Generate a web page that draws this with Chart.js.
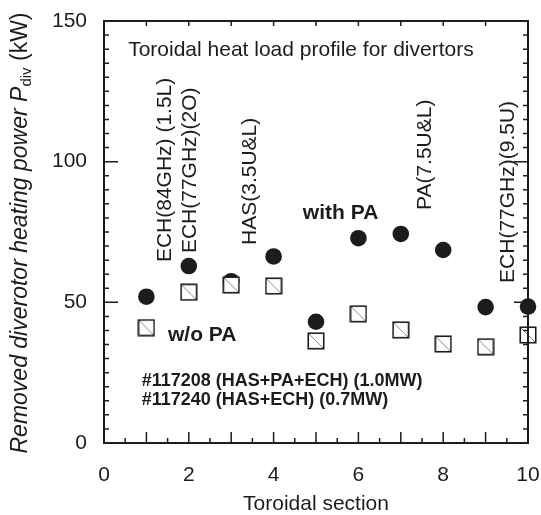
<!DOCTYPE html>
<html>
<head>
<meta charset="utf-8">
<script src="https://cdn.jsdelivr.net/npm/chart.js@4"></script>
<style>
  html, body { margin: 0; padding: 0; background: #fff; }
  #wrap { width: 541px; height: 515px; }
</style>
</head>
<body>
<div id="wrap"><canvas id="chart-divertor"></canvas></div>
<script>
// toroidal section numbers
const sections = [1, 2, 3, 4, 5, 6, 7, 8, 9, 10];
// removed divertor heating power (kW)
const withPA = [52.0, 62.9, 57.5, 66.3, 43.1, 72.8, 74.3, 68.6, 48.3, 48.5];
const withoutPA = [41.0, 53.6, 56.2, 55.8, 36.3, 45.9, 40.2, 35.2, 34.2, 38.4];

const xTicks = [0, 2, 4, 6, 8, 10];
const yTicks = [0, 50, 100, 150];

// text labels in data coordinates
const heatingLabels = [
    { text: 'ECH(84GHz) (1.5L)', x: 1.44, y: 64.3 },
    { text: 'ECH(77GHz)(2O)', x: 2.03, y: 67.5 },
    { text: 'HAS(3.5U&L)', x: 3.44, y: 70.4 },
    { text: 'PA(7.5U&L)', x: 7.57, y: 82.8 },
    { text: 'ECH(77GHz)(9.5U)', x: 9.53, y: 56.9 }
];
const notes = [
    { text: 'Toroidal heat load profile for divertors', x: 0.57, y: 139.7, font: '21px "Liberation Sans", Arial, sans-serif' },
    { text: 'with PA', x: 4.69, y: 81.8, font: 'bold 21px "Liberation Sans", Arial, sans-serif' },
    { text: 'w/o PA', x: 1.51, y: 38.4, font: 'bold 21px "Liberation Sans", Arial, sans-serif' },
    { text: '#117208 (HAS+PA+ECH) (1.0MW)', x: 0.89, y: 22.0, font: 'bold 18px "Liberation Sans", Arial, sans-serif' },
    { text: '#117240 (HAS+ECH) (0.7MW)', x: 0.89, y: 15.3, font: 'bold 18px "Liberation Sans", Arial, sans-serif' }
];

const ink = '#1c1c1c';
const fontFamily = '"Liberation Sans", Arial, sans-serif';

// open square with a thin diagonal
function makeSquare() {
    var c = document.createElement('canvas');
    c.width = 18; c.height = 18;
    var g = c.getContext('2d');
    g.fillStyle = '#fff';
    g.fillRect(1, 1, 16, 16);
    g.strokeStyle = '#888';
    g.lineWidth = 1;
    g.beginPath();
    g.moveTo(2, 2); g.lineTo(16, 16);
    g.stroke();
    g.strokeStyle = ink;
    g.lineWidth = 1.6;
    g.strokeRect(1.25, 1.25, 15.5, 15.5);
    return c;
}

const framePlugin = {
    id: 'frame',
    afterDatasetsDraw(chart) {
        const ctx = chart.ctx;
        const a = chart.chartArea;
        const xs = chart.scales.x, ys = chart.scales.y;
        ctx.save();
        ctx.strokeStyle = ink;
        ctx.lineWidth = 2;
        ctx.strokeRect(a.left, a.top, a.right - a.left, a.bottom - a.top);
        ctx.lineWidth = 1.5;
        ctx.beginPath();
        // x ticks: bottom (integers long, halves short), top integers
        for (let v = 0.5; v < 10; v += 0.5) {
            const px = xs.getPixelForValue(v);
            const len = Number.isInteger(v) ? 11 : 5;
            ctx.moveTo(px, a.bottom); ctx.lineTo(px, a.bottom - len);
            if (Number.isInteger(v)) { ctx.moveTo(px, a.top); ctx.lineTo(px, a.top + 5); }
        }
        // y ticks on both sides
        for (let v = 5; v < 150; v += 5) {
            const py = ys.getPixelForValue(v);
            const len = v % 50 === 0 ? 14 : 5;
            ctx.moveTo(a.left, py); ctx.lineTo(a.left + len, py);
            ctx.moveTo(a.right, py); ctx.lineTo(a.right - len, py);
        }
        ctx.stroke();

        // annotations
        ctx.fillStyle = ink;
        ctx.textBaseline = 'middle';
        ctx.textAlign = 'left';
        notes.forEach(function (n) {
            ctx.font = n.font;
            ctx.fillText(n.text, xs.getPixelForValue(n.x), ys.getPixelForValue(n.y));
        });
        ctx.font = '21px ' + fontFamily;
        heatingLabels.forEach(function (n) {
            ctx.save();
            ctx.translate(xs.getPixelForValue(n.x), ys.getPixelForValue(n.y));
            ctx.rotate(-Math.PI / 2);
            ctx.fillText(n.text, 0, 0);
            ctx.restore();
        });

        // y axis title with subscript
        const parts = [
            { t: 'Removed diverotor heating power ', f: 'italic 23px ' + fontFamily, dy: 0 },
            { t: 'P', f: 'italic 23px ' + fontFamily, dy: 0 },
            { t: 'div', f: '15px ' + fontFamily, dy: 6 },
            { t: ' (kW)', f: '23px ' + fontFamily, dy: 0 }
        ];
        let total = 0;
        parts.forEach(function (p) { ctx.font = p.f; p.w = ctx.measureText(p.t).width; total += p.w; });
        ctx.save();
        ctx.translate(21, 233);
        ctx.rotate(-Math.PI / 2);
        let x0 = -total / 2;
        parts.forEach(function (p) {
            ctx.font = p.f;
            ctx.fillText(p.t, x0, p.dy);
            x0 += p.w;
        });
        ctx.restore();
        ctx.restore();
    }
};

var ctx = document.getElementById('chart-divertor');
var myChart = new Chart(ctx, {
    type: 'scatter',
    data: {
        datasets: [{
            label: 'w/o PA',
            data: sections.map((s, i) => ({ x: s, y: withoutPA[i] })),
            pointStyle: makeSquare(),
            clip: false
        }, {
            label: 'with PA',
            data: sections.map((s, i) => ({ x: s, y: withPA[i] })),
            pointStyle: 'circle',
            pointRadius: 8.3,
            pointHoverRadius: 8.3,
            backgroundColor: ink,
            borderColor: ink,
            borderWidth: 0,
            clip: false
        }]
    },
    options: {
        responsive: true,
        maintainAspectRatio: false,
        animation: false,
        events: [],
        layout: { padding: { top: 21, right: 13, left: 0, bottom: 0 } },
        plugins: {
            legend: { display: false },
            tooltip: { enabled: false }
        },
        scales: {
            x: {
                type: 'linear',
                min: 0,
                max: 10,
                afterFit: function (scale) {
                    scale.height = 72;
                    scale.paddingLeft = 0; scale.paddingRight = 0;
                },
                afterBuildTicks: function (scale) { scale.ticks = xTicks.map(v => ({ value: v })); },
                grid: { display: false, drawTicks: false },
                border: { display: false },
                ticks: { color: ink, padding: 20, maxRotation: 0, font: { family: fontFamily, size: 21 } },
                title: {
                    display: true,
                    text: 'Toroidal section',
                    color: ink,
                    padding: { top: 0, bottom: 0 },
                    font: { family: fontFamily, size: 21, lineHeight: 1.0 }
                }
            },
            y: {
                type: 'linear',
                min: 0,
                max: 150,
                afterFit: function (scale) {
                    scale.width = 104;
                    scale.paddingTop = 0; scale.paddingBottom = 0;
                },
                afterBuildTicks: function (scale) { scale.ticks = yTicks.map(v => ({ value: v })); },
                grid: { display: false, drawTicks: false },
                border: { display: false },
                ticks: { color: ink, padding: 17, font: { family: fontFamily, size: 21 } }
            }
        }
    },
    plugins: [framePlugin]
});
</script>
</body>
</html>
